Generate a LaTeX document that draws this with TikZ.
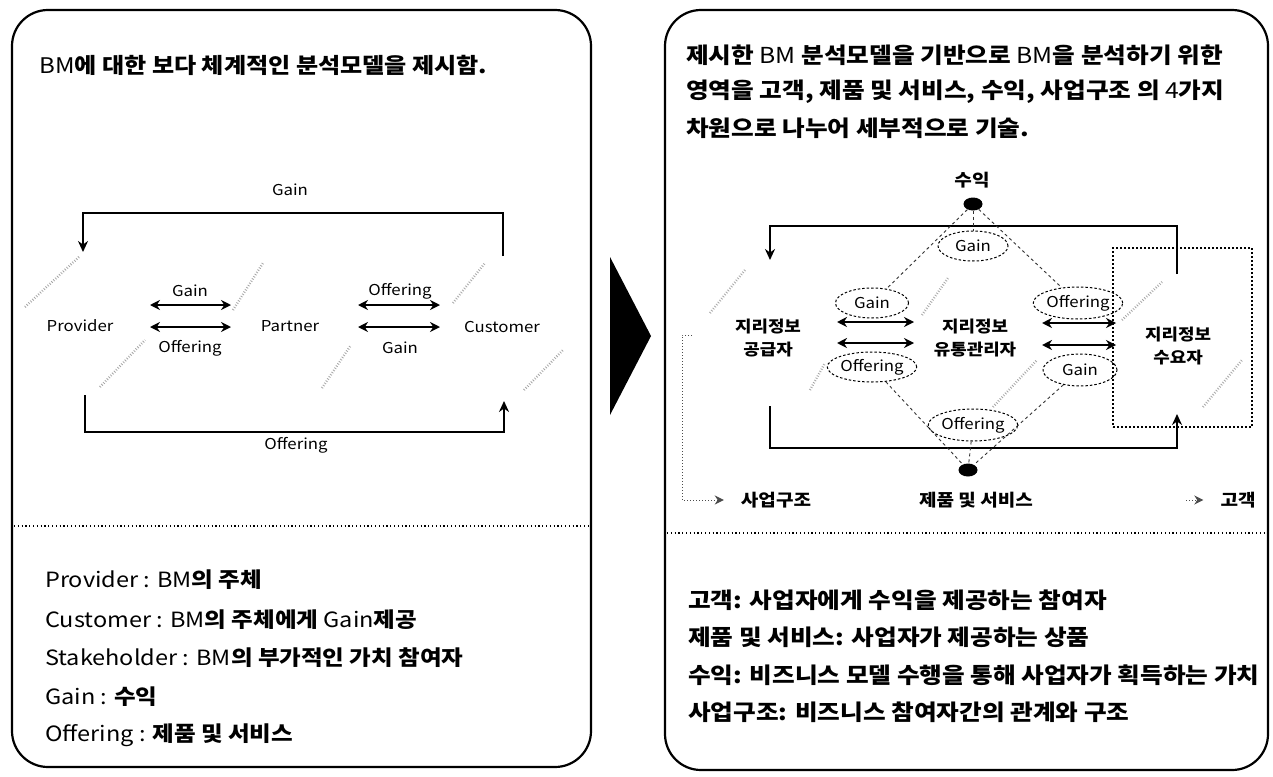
\documentclass[tikz,border=0pt]{standalone}
\usepackage{fontspec}
\setmainfont{Noto Sans CJK KR}[FakeStretch=1.12]
\usetikzlibrary{arrows.meta,shapes.geometric,calc}
\newcommand\kb[1]{\textbf{#1}}
\begin{document}
\begin{tikzpicture}[x=1pt,y=-1pt,
  panel/.style={draw=black,line width=2.2pt,rounded corners=36pt},
  sepline/.style={draw=black,line width=1.8pt,dash pattern=on 1.2pt off 2.6pt},
  flow/.style={draw=black,line width=2.6pt},
  tip/.style={-{Stealth[length=11pt,width=10pt]}},
  dbl/.style={draw=black,line width=2.4pt,{Stealth[length=10pt,width=10pt]}-{Stealth[length=10pt,width=10pt]}},
  hint/.style={draw=black!35,line width=2.4pt,dash pattern=on 0.8pt off 1.8pt},
  dia/.style={draw=black!80,line width=0.9pt,dash pattern=on 3pt off 3pt},
  lbl/.style={font=\fontsize{15}{17}\selectfont,inner sep=1pt},
  kor/.style={font=\fontsize{16}{23}\selectfont\bfseries,align=center,inner sep=1pt},
  ell/.style={draw=black,ellipse,line width=1pt,dash pattern=on 2.5pt off 2pt,inner sep=0pt,font=\fontsize{15}{17}\selectfont},
  blob/.style={fill=black,ellipse,inner sep=0pt,minimum width=19pt,minimum height=13pt},
  hdr/.style={anchor=west,inner sep=0pt,font=\fontsize{22}{26}\selectfont},
  ltxt/.style={anchor=west,inner sep=0pt,font=\fontsize{21}{24}\selectfont},
  rtxt/.style={anchor=west,inner sep=0pt,font=\fontsize{22}{26}\selectfont\bfseries},
  captxt/.style={inner sep=1pt,font=\fontsize{17}{22}\selectfont\bfseries},
  brk/.style={draw=black!70,line width=1pt,dotted,-{Stealth[length=9pt,width=9pt]}}
]
\useasboundingbox (0,0) rectangle (1273,776);
\fill[white] (0,0) rectangle (1273,776);

% ---------- panels ----------
\draw[panel] (12,10) rectangle (591,767);
\draw[panel] (665,10) rectangle (1268,770);
\draw[sepline] (14,526) -- (589,526);
\draw[sepline] (667,533) -- (1266,533);
\fill[black] (610,257) -- (651,336) -- (610,415) -- cycle;

% ---------- left header ----------
\node[hdr,font=\fontsize{21.5}{26}\selectfont] (lh) at (39,65) {BM\kb{에 대한 보다 체계적인 분석모델을 제시함.}};

% ---------- left diagram ----------
\node[lbl] (prov) at (80,326) {Provider};
\node[lbl] (part) at (290,326) {Partner};
\node[lbl] (cust) at (502,327) {Customer};
\node[lbl] (gtop) at (290,190) {Gain};
\node[lbl] (obot) at (296,445) {Offering};

\coordinate (pT) at (83,252);
\coordinate (cT) at (503,256);
\coordinate (pB) at (85,395);
\coordinate (cB) at (504,401);
\draw[flow,tip] (cT) -- (503,213) -| (pT);
\draw[flow,tip] (pB) -- (85,432) -| (cB);

\coordinate (a1l) at (150,305); \coordinate (a1r) at (231,305);
\coordinate (a2l) at (150,327); \coordinate (a2r) at (231,327);
\coordinate (a3l) at (358,305); \coordinate (a3r) at (440,305);
\coordinate (a4l) at (358,327); \coordinate (a4r) at (440,327);
\draw[dbl] (a1l) -- (a1r);
\draw[dbl] (a2l) -- (a2r);
\draw[dbl] (a3l) -- (a3r);
\draw[dbl] (a4l) -- (a4r);
\node[lbl] (lg1) at (190,291) {Gain};
\node[lbl] (lo1) at (190,348) {Offering};
\node[lbl] (lo2) at (400,291) {Offering};
\node[lbl] (lg2) at (400,348) {Gain};

\draw[hint] (25,307) -- (80,256);
\draw[hint] (100,387) -- (145,340);
\draw[hint] (233,310) -- (263,263);
\draw[hint] (322,388) -- (351,345);
\draw[hint] (453,303) -- (485,263);
\draw[hint] (524,390) -- (563,350);

% ---------- left text ----------
\node[ltxt] (t1) at (45,580) {Provider : BM\kb{의 주체}};
\node[ltxt] (t2) at (45,620) {Customer : BM\kb{의 주체에게} Gain\kb{제공}};
\node[ltxt] (t3) at (45,658) {Stakeholder : BM\kb{의 부가적인 가치 참여자}};
\node[ltxt] (t4) at (45,697) {Gain : \kb{수익}};
\node[ltxt] (t5) at (45,735) {Offering : \kb{제품 및 서비스}};

% ---------- right header ----------
\node[hdr] (rh1) at (686,55) {\kb{제시한} BM \kb{분석모델을 기반으로} BM\kb{을 분석하기 위한}};
\node[hdr] (rh2) at (686,92) {\kb{영역을 고객, 제품 및 서비스, 수익, 사업구조 의} 4\kb{가지}};
\node[hdr] (rh3) at (686,128) {\kb{차원으로 나누어 세부적으로 기술.}};

% ---------- right diagram ----------
\node[draw=black,line width=2pt,dotted,minimum width=139pt,minimum height=179pt,inner sep=0pt] (box) at (1182.5,337.5) {};
\node[kor] (sup) at (768,338) {지리정보\\공급자};
\node[kor] (mid) at (975,338) {지리정보\\유통관리자};
\node[kor] (dem) at (1178,346) {지리정보\\수요자};

\node[captxt] (suik) at (972,180) {수익};
\node[blob] (bt) at (973,204) {};
\node[blob] (bb) at (968,470) {};
\node[captxt] (sg) at (776,500) {사업구조};
\node[captxt] (jp) at (976,500) {제품 및 서비스};
\node[captxt] (gk) at (1238,500) {고객};

\node[ell,minimum width=70pt,minimum height=30pt] (eGT) at (973,246) {Gain};
\node[ell,minimum width=73pt,minimum height=30pt] (eGL) at (872,303) {Gain};
\node[ell,minimum width=78pt,minimum height=30pt] (eOL) at (872,367) {Offering};
\node[ell,minimum width=82pt,minimum height=32pt] (eOR) at (1078,303) {Offering};
\node[ell,minimum width=74pt,minimum height=32pt] (eGR) at (1080,370) {Gain};
\node[ell,minimum width=78pt,minimum height=32pt] (eOB) at (973,425) {Offering};

\coordinate (rlT) at (770,260);
\coordinate (rrT) at (1177,274);
\coordinate (rlB) at (770,406);
\coordinate (rrB) at (1177,414);
\draw[flow,tip] (rrT) |- (770,226) -- (rlT);
\draw[flow,tip] (rlB) |- (1177,448) -- (rrB);

\coordinate (b1l) at (837,322); \coordinate (b1r) at (914,322);
\coordinate (b2l) at (837,343); \coordinate (b2r) at (914,343);
\coordinate (b3l) at (1042,323); \coordinate (b3r) at (1116,323);
\coordinate (b4l) at (1042,345); \coordinate (b4r) at (1116,345);
\draw[dbl] (b1l) -- (b1r);
\draw[dbl] (b2l) -- (b2r);
\draw[dbl] (b3l) -- (b3r);
\draw[dbl] (b4l) -- (b4r);

\draw[dia] (bt) -- (eGL);
\draw[dia] (bt) -- (eOR);
\draw[dia] (bt) -- (eGT);
\draw[dia] (eOL) -- (bb);
\draw[dia] (eGR) -- (bb);
\draw[dia] (eOB) -- (bb);

\draw[hint] (710,313) -- (745,270);
\draw[hint] (810,390) -- (825,363);
\draw[hint] (922,315) -- (948,278);
\draw[hint] (993,407) -- (1037,360);
\draw[hint] (1122,320) -- (1162,282);
\draw[hint] (1203,407) -- (1242,360);

\coordinate (br0) at (692,335);
\draw[brk,shorten >=16pt] (br0) -- (682,335) |- (sg.west);
\coordinate (gk0) at (1186,500);
\draw[brk,shorten >=16pt] (gk0) -- (gk.west);

% ---------- right text ----------
\node[rtxt] (u1) at (688,600) {고객: 사업자에게 수익을 제공하는 참여자};
\node[rtxt] (u2) at (688,637) {제품 및 서비스: 사업자가 제공하는 상품};
\node[rtxt] (u3) at (688,675) {수익: 비즈니스 모델 수행을 통해 사업자가 획득하는 가치};
\node[rtxt] (u4) at (688,712) {사업구조: 비즈니스 참여자간의 관계와 구조};
\end{tikzpicture}
\end{document}
